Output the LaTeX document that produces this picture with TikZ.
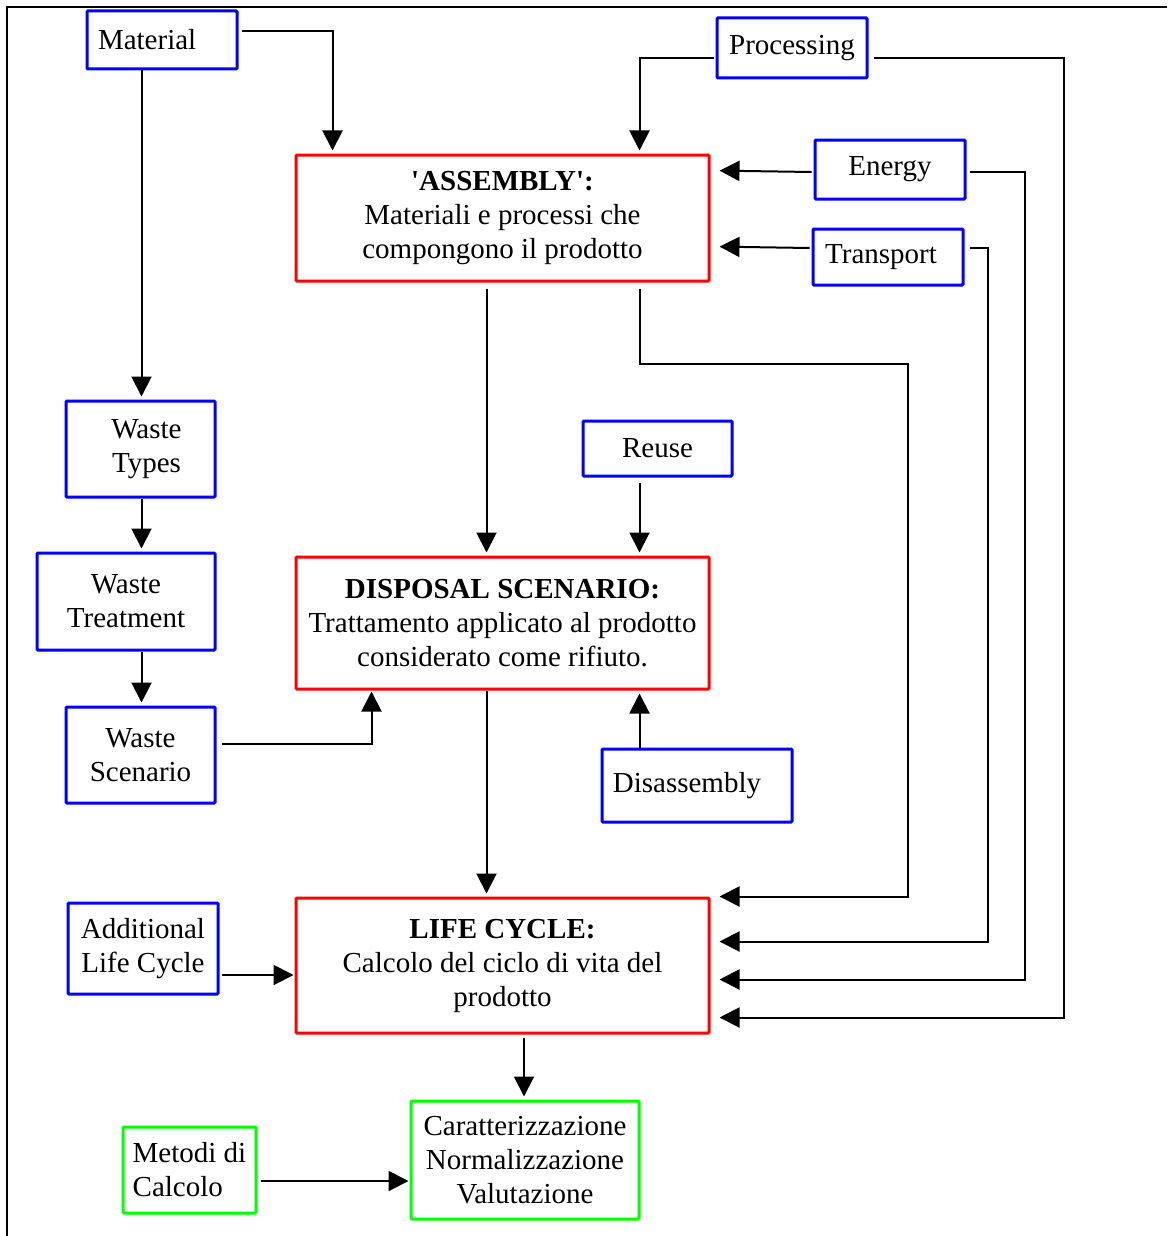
\documentclass[tikz,border=0pt]{standalone}
\usepackage{fontspec}
\setmainfont{Liberation Serif}
\usetikzlibrary{arrows.meta,calc}
\definecolor{boxblue}{RGB}{0,0,255}
\definecolor{boxred}{RGB}{255,0,0}
\definecolor{boxgreen}{RGB}{0,255,0}
\begin{document}
\begin{tikzpicture}[x=1pt,y=-1pt,
  box/.style={draw, line width=3pt, rounded corners=1pt, inner sep=0pt, align=center,
    font=\fontsize{29}{34}\selectfont},
  bluebox/.style={box, draw=boxblue},
  redbox/.style={box, draw=boxred},
  greenbox/.style={box, draw=boxgreen},
  conn/.style={line width=2pt, -{Triangle[length=20pt,width=20pt]}},
  near/.style={shorten >=3pt},
  far/.style={shorten >=9pt}]
\useasboundingbox (0,0) rectangle (1167,1236);
% frame
\draw[line width=2.5pt] (7,1236) -- (7,7) -- (1167,7);

% input boxes
\node[bluebox, minimum width=150pt, minimum height=58pt, text width=128pt, inner xsep=11pt, align=left] (mat) at (162,40) {Material};
\node[bluebox, minimum width=150pt, minimum height=60pt] (proc) at (792,48) {Processing};
\node[bluebox, minimum width=150pt, minimum height=59pt] (en) at (890,169.5) {Energy};
\node[bluebox, minimum width=150pt, minimum height=56pt] (tr) at (888,257) {Transport\hspace*{14pt}};

% main stages
\node[redbox, minimum width=413pt, minimum height=126pt] (asm) at (502.5,218)
  {\textbf{\textquotesingle ASSEMBLY\textquotesingle:}\\Materiali e processi che\\compongono il prodotto};
\node[redbox, minimum width=413pt, minimum height=132pt] (disp) at (502.5,623)
  {\textbf{DISPOSAL SCENARIO:}\\Trattamento applicato al prodotto\\considerato come rifiuto.};
\node[redbox, minimum width=413pt, minimum height=135pt] (lc) at (502.5,965.5)
  {\textbf{LIFE CYCLE:}\\Calcolo del ciclo di vita del\\prodotto};

% waste chain
\node[bluebox, minimum width=149pt, minimum height=96pt] (wt) at (140.5,449) {\hspace*{12pt}Waste\\\hspace*{12pt}Types};
\node[bluebox, minimum width=178pt, minimum height=97pt] (wtr) at (126,601.5) {Waste\\Treatment};
\node[bluebox, minimum width=149pt, minimum height=96pt] (ws) at (140.5,755) {Waste\\Scenario};

% disposal inputs
\node[bluebox, minimum width=149pt, minimum height=55pt] (reuse) at (657.5,448.5) {Reuse};
\node[bluebox, minimum width=190pt, minimum height=73pt] (dis) at (697,785.5) {Disassembly\hspace*{20pt}};

% life cycle inputs and results
\node[bluebox, minimum width=150pt, minimum height=91pt] (alc) at (143,948.5) {Additional\\Life Cycle};
\node[greenbox, minimum width=133pt, minimum height=86pt, align=left] (met) at (189.5,1170) {Metodi di\\Calcolo};
\node[greenbox, minimum width=228pt, minimum height=118pt] (car) at (525,1160)
  {Caratterizzazione\\Normalizzazione\\Valutazione};

% connectors into the assembly
\draw[conn, near] ($(mat.north east)+(3,22)$) -| ($(asm.north west)+(38,0)$);
\draw[conn, near] ($(proc.south west)+(-2,-21)$) -| ($(asm.north west)+(345,0)$);
\draw[conn, far] ($(en.west)+(-2,2.5)$) -- ($(asm.north east)+(0,17)$);
\draw[conn, far] ($(tr.west)+(-2,-9)$) -- ($(asm.north east)+(0,93)$);

% connectors into the life cycle from the right
\draw[conn, far] ($(proc.south east)+(5,-21)$) -| ($(lc.south east)+(353,-17)$) -- ($(lc.south east)+(0,-17)$);
\draw[conn, far] ($(en.east)+(3,2.5)$) -| ($(lc.south east)+(314,-55)$) -- ($(lc.south east)+(0,-55)$);
\draw[conn, far] ($(tr.east)+(5,-9)$) -| ($(lc.south east)+(277,-93)$) -- ($(lc.south east)+(0,-93)$);
\draw[conn, far] ($(asm.south west)+(345,6)$) |- ($(asm.south west)+(613,81)$) |- (lc.north east);

% vertical flow
\draw[conn, near] ($(asm.south west)+(192,6)$) -- ($(disp.north west)+(192,0)$);
\draw[conn, near] ($(reuse.south west)+(58,5)$) -- ($(disp.north west)+(345,0)$);
\draw[conn, near] ($(disp.south west)+(192,0)$) -- ($(lc.north west)+(192,0)$);
\draw[conn, near] ($(dis.north west)+(39,0)$) -- ($(disp.south west)+(345,0)$);
\draw[conn, near] ($(lc.south west)+(229.5,3)$) -- ($(car.north west)+(114.5,0)$);

% waste chain
\draw[conn, near] ($(mat.south west)+(56,0)$) -- ($(wt.north west)+(77,0)$);
\draw[conn, near] ($(wt.south west)+(77,0)$) -- ($(wtr.north west)+(106,0)$);
\draw[conn, near] ($(wtr.south west)+(106,0)$) -- ($(ws.north west)+(77,0)$);
\draw[conn, shorten >=1pt] ($(ws.north east)+(5,38)$) -| ($(disp.south west)+(77,0)$);

% side inputs
\draw[conn, shorten >=1pt] ($(alc.east)+(2,26.5)$) -- ($(lc.west)+(0,9.5)$);
\draw[conn, shorten >=1pt] ($(met.east)+(3,11)$) -- ($(car.west)+(0,21)$);
\end{tikzpicture}
\end{document}
